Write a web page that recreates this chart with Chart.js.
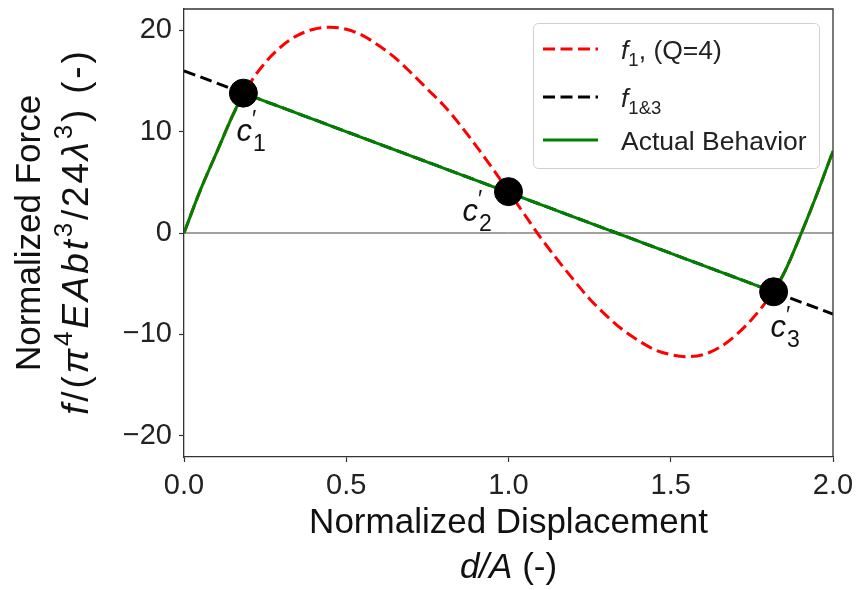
<!DOCTYPE html>
<html lang="en">
<head>
<meta charset="utf-8" />
<title>Normalized force vs displacement</title>
<script src="https://cdn.jsdelivr.net/npm/chart.js@4.4.4/dist/chart.umd.min.js"></script>
<style>
  html, body { margin: 0; padding: 0; background: #fff; }
</style>
</head>
<body>
<canvas id="stage" width="860" height="590"></canvas>
<script>
// f1 (Q=4), every 0.05
const f1X = [0.00, 0.05, 0.10, 0.15, 0.20, 0.25, 0.30, 0.35, 0.40, 0.45,
             0.50, 0.55, 0.60, 0.65, 0.70, 0.75, 0.80, 0.85, 0.90, 0.95,
             1.00, 1.05, 1.10, 1.15, 1.20, 1.25, 1.30, 1.35, 1.40, 1.45,
             1.50, 1.55, 1.60, 1.65, 1.70, 1.75, 1.80, 1.85, 1.90, 1.95, 2.00];
const f1Y = [0, 4.2, 7.9, 11.6, 14.6, 16.8, 18.4, 19.5, 20.1, 20.3,
             20.1, 19.5, 18.5, 17.3, 15.8, 14.2, 12.6, 10.7, 8.6, 6.4,
             4.1, 1.8, -0.5, -2.6, -4.6, -6.5, -8.1, -9.5, -10.6, -11.5,
             -12.0, -12.2, -12.0, -11.3, -10.1, -8.5, -6.5, -3.9, -0.2, 3.8, 8.1];

// f1&3 straight line
const f13X = [0, 2];
const f13Y = [16, -8];

// actual behaviour: along f1 up to c'1, along f1&3 to c'3, then f1 again
const actLeftX = [0, 0.05, 0.10, 0.15, 0.183];
const actLeftY = [0, 4.2, 7.9, 11.6, 13.8];
const actMidX = [0.183, 1.817];
const actMidY = [13.8, -5.8];
const actRightX = [1.817, 1.85, 1.90, 1.95, 2.00];
const actRightY = [-5.8, -3.9, -0.2, 3.8, 8.1];

// critical points c'1, c'2, c'3
const critX = [0.183, 1.0, 1.817];
const critY = [13.8, 4.08, -5.8];
const critNames = ['1', '2', '3'];

const xTicks = [0, 0.5, 1.0, 1.5, 2.0];
const yTicks = [-20, -10, 0, 10, 20];

const FONT = '"Liberation Sans", Arial, sans-serif';
const pts = (xs, ys) => xs.map((x, i) => ({ x: x, y: ys[i] }));

// draw a run of text pieces: [text, kind] with kind r / i / sup / sub
// gap = extra px after every glyph (mathtext is looser than plain text)
function drawRuns(ctx, runs, x, y, size, align, gap) {
  gap = gap || 0;
  const fontFor = (k) => {
    const s = (k === 'sup' || k === 'sub') ? size * 0.7 : size;
    const it = (k === 'i') ? 'italic ' : '';
    return it + s + 'px ' + FONT;
  };
  const chars = [];
  runs.forEach(r => { for (const ch of r[0]) chars.push([ch, r[1]]); });
  let total = 0;
  chars.forEach(c => { ctx.font = fontFor(c[1]); total += ctx.measureText(c[0]).width + gap; });
  total -= gap;
  let cx = align === 'center' ? x - total / 2 : x;
  ctx.textAlign = 'left';
  ctx.textBaseline = 'alphabetic';
  chars.forEach(c => {
    ctx.font = fontFor(c[1]);
    let dy = 0;
    if (c[1] === 'sup') dy = -size * 0.42;
    if (c[1] === 'sub') dy = size * 0.25;
    ctx.fillText(c[0], cx, y + dy);
    cx += ctx.measureText(c[0]).width + gap;
  });
}

const decor = {
  id: 'decor',
  afterDatasetsDraw(chart) {
    const ctx = chart.ctx;
    const a = chart.chartArea;
    const xs = chart.scales.x, ys = chart.scales.y;
    ctx.save();
    // top and right spines
    ctx.strokeStyle = '#333';
    ctx.lineWidth = 1.3;
    ctx.beginPath();
    ctx.moveTo(a.left, a.top); ctx.lineTo(a.right, a.top); ctx.lineTo(a.right, a.bottom);
    ctx.stroke();

    // c' labels next to the critical points
    const offs = [[-7, 48], [-46, 29], [-3, 45]];
    ctx.fillStyle = '#111';
    critX.forEach((v, i) => {
      const px = xs.getPixelForValue(v) + offs[i][0];
      const py = ys.getPixelForValue(critY[i]) + offs[i][1];
      ctx.textAlign = 'left';
      ctx.textBaseline = 'alphabetic';
      ctx.font = 'italic 31px ' + FONT;
      ctx.fillText('c', px, py);
      const w = ctx.measureText('c').width;
      ctx.font = '23px ' + FONT;
      ctx.fillText('\u2032', px + w, py - 14);
      ctx.fillText(critNames[i], px + w + 1, py + 10);
    });

    // legend
    const lx = 533, ly = 23, lw = 286, lh = 145;
    ctx.fillStyle = 'rgba(255,255,255,0.85)';
    ctx.strokeStyle = '#d0d0d0';
    ctx.lineWidth = 1;
    ctx.beginPath();
    ctx.roundRect(lx + 0.5, ly + 0.5, lw, lh, 5);
    ctx.fill();
    ctx.stroke();
    const rows = [
      { y: 49, color: '#ff0000', dash: [12, 5.5], runs: [['f', 'i'], ['1', 'sub'], [', (Q=4)', 'r']] },
      { y: 97, color: '#000000', dash: [12, 5.5], runs: [['f', 'i'], ['1&3', 'sub']] },
      { y: 140, color: '#008000', dash: [], runs: [['Actual Behavior', 'r']] }
    ];
    rows.forEach(r => {
      ctx.strokeStyle = r.color;
      ctx.lineWidth = 3;
      ctx.setLineDash(r.dash);
      ctx.beginPath();
      ctx.moveTo(543, r.y); ctx.lineTo(598, r.y);
      ctx.stroke();
      ctx.setLineDash([]);
      ctx.fillStyle = '#222';
      drawRuns(ctx, r.runs, 621, r.y + 10, 26.5, 'left');
    });

    // axis titles
    ctx.fillStyle = '#111';
    const midX = (a.left + a.right) / 2;
    drawRuns(ctx, [['Normalized Displacement', 'r']], midX, 533, 35, 'center');
    drawRuns(ctx, [['d/A', 'i'], [' (-)', 'r']], midX, 578, 35, 'center');
    const midY = (a.top + a.bottom) / 2;
    ctx.save();
    ctx.translate(40, midY);
    ctx.rotate(-Math.PI / 2);
    drawRuns(ctx, [['Normalized Force', 'r']], 0, 0, 35, 'center');
    ctx.restore();
    ctx.save();
    ctx.translate(88, midY);
    ctx.rotate(-Math.PI / 2);
    drawRuns(ctx, [['f', 'i'], ['/(', 'r'], ['\u03c0', 'i'], ['4', 'sup'], ['EAbt', 'i'], ['3', 'sup'],
                   ['/24', 'r'], ['\u03bb', 'i'], ['3', 'sup'], [')', 'r'], [' (-)', 'r']], 0, 0, 37, 'center', 2.8);
    ctx.restore();
    ctx.restore();
  }
};

new Chart(document.getElementById('stage'), {
  type: 'scatter',
  data: {
    datasets: [
      { label: 'critical points', data: pts(critX, critY), showLine: false,
        backgroundColor: '#000', borderColor: '#000', pointRadius: 14, pointHoverRadius: 14, order: 0 },
      { label: 'Actual Behavior', data: pts(actLeftX, actLeftY), showLine: true, borderColor: '#008000',
        borderWidth: 3, pointRadius: 0, cubicInterpolationMode: 'monotone', order: 1 },
      { label: 'Actual Behavior (linear)', data: pts(actMidX, actMidY), showLine: true, borderColor: '#008000',
        borderWidth: 3, pointRadius: 0, tension: 0, order: 1 },
      { label: 'Actual Behavior (right)', data: pts(actRightX, actRightY), showLine: true, borderColor: '#008000',
        borderWidth: 3, pointRadius: 0, cubicInterpolationMode: 'monotone', order: 1 },
      { label: 'f1&3', data: pts(f13X, f13Y), showLine: true, borderColor: '#000',
        borderDash: [12, 5.5], borderWidth: 3, pointRadius: 0, order: 2 },
      { label: 'f1, (Q=4)', data: pts(f1X, f1Y), showLine: true, borderColor: '#ff0000',
        borderDash: [12, 5.5], borderWidth: 3, pointRadius: 0, cubicInterpolationMode: 'monotone', order: 3 },
      { label: 'zero', data: [{ x: xTicks[0], y: 0 }, { x: xTicks[xTicks.length - 1], y: 0 }], showLine: true,
        borderColor: '#444', borderWidth: 1, pointRadius: 0, order: 4 }
    ]
  },
  options: {
    responsive: false,
    animation: false,
    events: [],
    layout: { autoPadding: false, padding: { top: 9, right: 27, left: 0, bottom: 0 } },
    plugins: { legend: { display: false }, tooltip: { enabled: false } },
    scales: {
      x: {
        type: 'linear', min: 0, max: 2,
        afterBuildTicks: s => { s.ticks = xTicks.map(v => ({ value: v })); },
        afterFit: s => { s.height = 133; s.paddingLeft = 0; s.paddingRight = 0; },
        ticks: { font: { family: FONT, size: 29 }, color: '#222', padding: 7, maxRotation: 0, autoSkip: false,
                 callback: v => Number(v).toFixed(1) },
        grid: { drawOnChartArea: false, drawTicks: true, tickLength: 5, tickColor: '#333', tickWidth: 1.2 },
        border: { display: true, color: '#333', width: 1.3 }
      },
      y: {
        type: 'linear', min: -22.1, max: 22.1,
        afterBuildTicks: s => { s.ticks = yTicks.map(v => ({ value: v })); },
        afterFit: s => { s.width = 184; s.paddingTop = 0; s.paddingBottom = 0; },
        ticks: { font: { family: FONT, size: 29 }, color: '#222', padding: 7, autoSkip: false,
                 callback: v => v < 0 ? '\u2212' + Math.abs(v) : String(v) },
        grid: { drawOnChartArea: false, drawTicks: true, tickLength: 5, tickColor: '#333', tickWidth: 1.2 },
        border: { display: true, color: '#333', width: 1.3 }
      }
    }
  },
  plugins: [decor]
});
</script>
</body>
</html>
